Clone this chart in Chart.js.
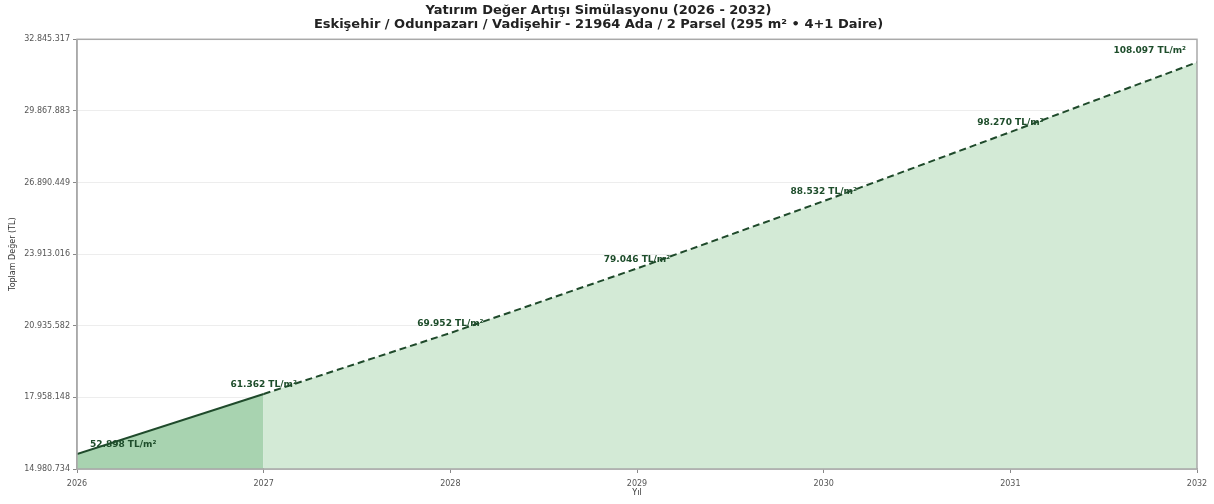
<!DOCTYPE html>
<html>
<head>
<meta charset="utf-8">
<script src="https://cdn.jsdelivr.net/npm/chart.js@4.4.1/dist/chart.umd.min.js"></script>
<style>
    html, body { margin: 0; padding: 0; background: #fff; }
    #wrap { width: 1214px; height: 504px; }
</style>
</head>
<body>
<div id="wrap"><canvas id="value-chart"></canvas></div>
<script>
// veriler
const years = [2026, 2027, 2028, 2029, 2030, 2031, 2032];
const pricePerM2 = [52898, 61362, 69952, 79046, 88532, 98270, 108097];
const area = 295;
const totalValues = [15604910, 18101790, 20635840, 23318570, 26116940, 28989650, 31888615];
const yTicks = [14980734, 17958148, 20935582, 23913016, 26890449, 29867883, 32845317];

const titleLines = [
    "Yatırım Değer Artışı Simülasyonu (2026 - 2032)",
    "Eskişehir / Odunpazarı / Vadişehir - 21964 Ada / 2 Parsel (295 m² • 4+1 Daire)",
];
const yTitle = "Toplam Değer (TL)";
const xTitle = "Yıl";

const lineColor = "#1f4a2b";
const labelColor = "#1e4d2b";

function dotted(n) {
    return String(Math.round(n)).replace(/\B(?=(\d{3})+(?!\d))/g, ".");
}

const actualPart = [
    { x: years[0], y: totalValues[0] },
    { x: years[1], y: totalValues[1] },
];
const forecastPart = years.slice(1).map((yr, i) => ({ x: yr, y: totalValues[i + 1] }));

const extrasPlugin = {
    id: "extras",
    afterDatasetsDraw(chart) {
        const ctx = chart.ctx;
        const area = chart.chartArea;
        const xs = chart.scales.x;
        const ys = chart.scales.y;

        // çerçeve
        ctx.save();
        ctx.strokeStyle = "#a9a9a9";
        ctx.lineWidth = 1.5;
        ctx.strokeRect(area.left, area.top, area.right - area.left, area.bottom - area.top);

        // etiketler
        ctx.font = "bold 9px 'DejaVu Sans'";
        ctx.fillStyle = labelColor;
        ctx.textBaseline = "middle";
        years.forEach((yr, i) => {
            const px = xs.getPixelForValue(yr);
            const py = ys.getPixelForValue(totalValues[i]);
            const text = dotted(pricePerM2[i]) + " TL/m²";
            if (i === 0) {
                ctx.textAlign = "left";
                ctx.fillText(text, px + 13, py - 9);
            } else if (i === years.length - 1) {
                ctx.textAlign = "right";
                ctx.fillText(text, px - 11, py - 12);
            } else {
                ctx.textAlign = "center";
                ctx.fillText(text, px, py - 9);
            }
        });

        // eksen başlıkları
        ctx.fillStyle = "#333";
        ctx.font = "8px 'DejaVu Sans'";
        ctx.textAlign = "center";
        ctx.fillText(xTitle, (area.left + area.right) / 2, 493);
        ctx.translate(13, (area.top + area.bottom) / 2);
        ctx.rotate(-Math.PI / 2);
        ctx.fillText(yTitle, 0, 0);
        ctx.restore();
    },
};

const config = {
    type: "line",
    data: {
        datasets: [
            {
                label: "Gerçekleşen",
                data: actualPart,
                borderColor: lineColor,
                borderWidth: 2,
                backgroundColor: "rgb(168, 211, 176)",
                fill: "start",
                pointRadius: 0,
                tension: 0,
            },
            {
                label: "Tahmin",
                data: forecastPart,
                borderColor: lineColor,
                borderWidth: 2,
                borderDash: [7, 4],
                backgroundColor: "rgb(211, 234, 214)",
                fill: "start",
                pointRadius: 0,
                tension: 0,
            },
        ],
    },
    plugins: [extrasPlugin],
    options: {
        responsive: true,
        maintainAspectRatio: false,
        animation: false,
        layout: {
            padding: { left: 0, right: 17, top: 0, bottom: 0 },
        },
        scales: {
            x: {
                type: "linear",
                min: years[0],
                max: years[years.length - 1],
                afterBuildTicks(scale) {
                    scale.ticks = years.map((v) => ({ value: v }));
                },
                afterFit(scale) {
                    scale.height = 35;
                },
                ticks: {
                    callback: (v) => String(v),
                    color: "#555",
                    font: { family: "'DejaVu Sans'", size: 8 },
                    padding: 6,
                    maxRotation: 0,
                },
                grid: {
                    drawOnChartArea: false,
                    tickLength: 4,
                    tickColor: "#888",
                },
                border: { color: "#a9a9a9", width: 1.5 },
            },
            y: {
                type: "linear",
                min: yTicks[0],
                max: yTicks[yTicks.length - 1],
                afterBuildTicks(scale) {
                    scale.ticks = yTicks.map((v) => ({ value: v }));
                },
                afterFit(scale) {
                    scale.width = 77;
                },
                ticks: {
                    callback: (v) => dotted(v),
                    color: "#555",
                    font: { family: "'DejaVu Sans'", size: 8 },
                    padding: 3,
                },
                grid: {
                    color: "rgba(0,0,0,0.07)",
                    tickLength: 4,
                    tickColor: "#888",
                },
                border: { color: "#a9a9a9", width: 1.5 },
            },
        },
        plugins: {
            legend: { display: false },
            tooltip: { enabled: false },
            title: {
                display: true,
                text: titleLines,
                color: "#222",
                font: { family: "'DejaVu Sans'", size: 13, weight: "bold", lineHeight: 1.05 },
                padding: { top: 4, bottom: 8 },
            },
        },
    },
};

new Chart(document.getElementById("value-chart"), config);
</script>
</body>
</html>
